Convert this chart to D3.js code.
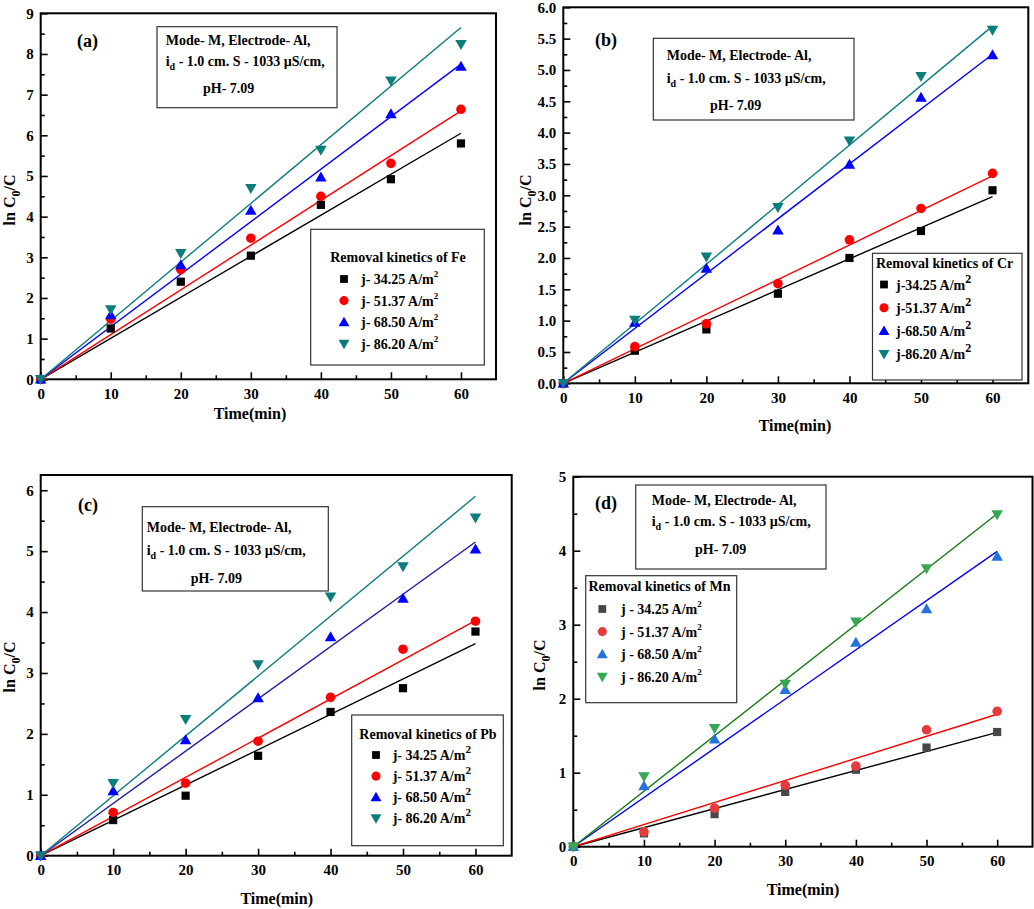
<!DOCTYPE html>
<html><head><meta charset="utf-8">
<script src="https://cdn.jsdelivr.net/npm/d3@7"></script>
<style>
body{margin:0;background:#fff}
svg text{font-family:"Liberation Serif","Times New Roman",serif;font-weight:bold;fill:#000}
</style></head><body>
<svg id="chart" width="1034" height="909"></svg>
<script>
// ---------- data ----------
const time = [0, 10, 20, 30, 40, 50, 60];
const currents = ["34.25", "51.37", "68.50", "86.20"];
const metals = ["Fe", "Cr", "Pb", "Mn"];
const xTicks = [0, 10, 20, 30, 40, 50, 60];

// Fe (a)
const fe34 = [0, 1.25, 2.40, 3.04, 4.29, 4.92, 5.80];
const fe51 = [0, 1.48, 2.70, 3.47, 4.50, 5.31, 6.64];
const fe68 = [0, 1.58, 2.81, 4.15, 4.97, 6.52, 7.69];
const fe86 = [0, 1.72, 3.10, 4.70, 5.64, 7.34, 8.24];
const feFitAt60 = [6.05, 6.60, 7.75, 8.65];
const feYTicks = [0, 1, 2, 3, 4, 5, 6, 7, 8, 9];

// Cr (b)
const cr34 = [0, 0.52, 0.86, 1.43, 2.00, 2.43, 3.08];
const cr51 = [0, 0.585, 0.95, 1.59, 2.29, 2.79, 3.35];
const cr68 = [0, 0.97, 1.83, 2.44, 3.49, 4.56, 5.24];
const cr86 = [0, 1.01, 2.02, 2.81, 3.87, 4.90, 5.64];
const crFitAt60 = [2.98, 3.31, 5.25, 5.70];
const crYTicks = [0, 0.5, 1, 1.5, 2, 2.5, 3, 3.5, 4, 4.5, 5, 5.5, 6];

// Pb (c)
const pb34 = [0, 0.585, 0.985, 1.64, 2.36, 2.75, 3.68];
const pb51 = [0, 0.71, 1.19, 1.88, 2.60, 3.39, 3.85];
const pb68 = [0, 1.06, 1.90, 2.59, 3.59, 4.22, 5.03];
const pb86 = [0, 1.19, 2.24, 3.14, 4.25, 4.75, 5.55];
const pbFitAt60 = [3.48, 3.86, 5.15, 5.90];
const pbYTicks = [0, 1, 2, 3, 4, 5, 6];

// Mn (d)
const mn34 = [0, 0.18, 0.44, 0.74, 1.04, 1.34, 1.55];
const mn51 = [0, 0.20, 0.52, 0.83, 1.09, 1.58, 1.83];
const mn68 = [0, 0.82, 1.45, 2.12, 2.76, 3.21, 3.92];
const mn86 = [0, 0.95, 1.60, 2.20, 3.04, 3.76, 4.49];
const mnFitAt60 = [1.545, 1.79, 3.99, 4.50];
const mnYTicks = [0, 1, 2, 3, 4, 5];

// ---------- styles ----------
const shapes = ["square", "circle", "up", "down"];
const colorsStd = ["#000000", "#ff0000", "#0000ff", "#0b7d7d"];
const lineStdC = ["#000000", "#ff0000", "#1c1ca6", "#0b7d7d"];
const markMn = ["#474747", "#e83a3a", "#2374da", "#35a853"];
const lineMn = ["#000000", "#ff0000", "#0000ff", "#127a12"];

function symPath(shape, k) {
  k = k || 1;
  if (shape === "square") { const s = 8.2 * k; return `M${-s/2},${-s/2}h${s}v${s}h${-s}Z`; }
  if (shape === "circle") { const r = 4.8 * k; return `M${r},0A${r},${r} 0 1,1 ${-r},0A${r},${r} 0 1,1 ${r},0Z`; }
  const w = 11.5 * k, h = 10 * k;
  if (shape === "up") return `M0,${-h*0.58}L${w/2},${h*0.42}L${-w/2},${h*0.42}Z`;
  return `M0,${h*0.58}L${w/2},${-h*0.42}L${-w/2},${-h*0.42}Z`;
}

const panels = [
  { tag: "(a)", box: [40.7, 13.3, 496, 379.3], yMax: 9, yTicks: feYTicks, yMinorStep: 0.5, fmt: d3.format("d"),
    series: [fe34, fe51, fe68, fe86], fit: feFitAt60, marks: colorsStd, lines: colorsStd,
    tagPos: [77, 47], note: { rect: [157, 26.7, 337, 107.7], x1: 165.7, x2: 165.7, x3: 203, y: [45, 65.5, 93] },
    legend: { rect: [310.7, 229.3, 484.3, 365], title: "Removal kinetics of Fe", tAnchor: "middle", tx: 398, ty: 262,
      mx: 344, tx2: 361, my0: 279, step: 21.6, prefix: "j- ", supSize: 9, supShift: -7 },
    yLab: [15, 200], xLab: [250, 419] },
  { tag: "(b)", box: [563.3, 7.3, 1028.3, 383.3], yMax: 6, yTicks: crYTicks, yMinorStep: 0.25, fmt: d3.format(".1f"),
    series: [cr34, cr51, cr68, cr86], fit: crFitAt60, marks: colorsStd, lines: colorsStd,
    tagPos: [595, 46], note: { rect: [653.3, 38.3, 854, 120], x1: 666.7, x2: 666.7, x3: 710, y: [59.5, 83, 109.5] },
    legend: { rect: [872.5, 253.3, 1022, 380], title: "Removal kinetics of Cr", tAnchor: "start", tx: 876, ty: 267.5,
      mx: 884, tx2: 896, my0: 284.5, step: 23.2, prefix: "j-", supSize: 12, supShift: -7 },
    yLab: [531, 200], xLab: [795, 431] },
  { tag: "(c)", box: [40.7, 475, 511.7, 855.7], yMax: 6.25, yTicks: pbYTicks, yMinorStep: 0.5, fmt: d3.format("d"),
    series: [pb34, pb51, pb68, pb86], fit: pbFitAt60, marks: colorsStd, lines: lineStdC,
    tagPos: [78, 511], note: { rect: [142.3, 506.7, 328.3, 591], x1: 146.7, x2: 146.7, x3: 190.7, y: [532, 554.5, 582.5] },
    legend: { rect: [351.7, 715, 503.3, 845.7], title: "Removal kinetics of Pb", tAnchor: "middle", tx: 428, ty: 738.5,
      mx: 376, tx2: 392.7, my0: 755, step: 21.1, prefix: "j- ", supSize: 11, supShift: -7 },
    yLab: [15, 667], xLab: [276.7, 904] },
  { tag: "(d)", box: [573.3, 476.7, 1032.5, 846.7], yMax: 5, yTicks: mnYTicks, yMinorStep: 0.5, fmt: d3.format("d"),
    series: [mn34, mn51, mn68, mn86], fit: mnFitAt60, marks: markMn, lines: lineMn,
    tagPos: [595, 509], note: { rect: [635.7, 485, 826, 569], x1: 651.7, x2: 651.7, x3: 695, y: [504.5, 525.5, 554] },
    legend: { rect: [585.7, 575.7, 736.7, 702.7], title: "Removal kinetics of Mn", tAnchor: "start", tx: 588.5, ty: 591,
      mx: 602.3, tx2: 621, my0: 609, step: 22.6, prefix: "j - ", supSize: 9, supShift: -7 },
    yLab: [545, 665], xLab: [803, 895] }
];

const svg = d3.select("#chart");

function drawPanel(p) {
  const [L, T, R, B] = p.box;
  const x = d3.scaleLinear().domain([0, 65]).range([L, R]);
  const y = d3.scaleLinear().domain([0, p.yMax]).range([B, T]);
  const g = svg.append("g");

  // minor ticks
  const xMinor = d3.range(5, 65, 10);
  const yMinor = d3.range(p.yMinorStep, p.yMax, p.yMinorStep).filter(v => !p.yTicks.some(t => Math.abs(t - v) < 1e-6));
  g.append("g").attr("transform", `translate(0,${B})`)
    .call(d3.axisBottom(x).tickValues(xMinor).tickSize(-4).tickFormat(""))
    .call(s => { s.select(".domain").remove(); s.selectAll("line").attr("stroke", "#000").attr("stroke-width", 1.6); });
  g.append("g").attr("transform", `translate(${L},0)`)
    .call(d3.axisLeft(y).tickValues(yMinor).tickSize(-4).tickFormat(""))
    .call(s => { s.select(".domain").remove(); s.selectAll("line").attr("stroke", "#000").attr("stroke-width", 1.6); });

  // major ticks
  g.append("g").attr("transform", `translate(0,${B})`)
    .call(d3.axisBottom(x).tickValues(xTicks).tickSize(-7).tickPadding(9).tickFormat(d3.format("d")))
    .call(s => { s.select(".domain").remove(); s.selectAll("line").attr("stroke", "#000").attr("stroke-width", 1.6);
      s.selectAll("text").attr("font-size", 15).attr("font-family", null).attr("fill", "#000"); });
  g.append("g").attr("transform", `translate(${L},0)`)
    .call(d3.axisLeft(y).tickValues(p.yTicks).tickSize(-7).tickPadding(7).tickFormat(p.fmt))
    .call(s => { s.select(".domain").remove(); s.selectAll("line").attr("stroke", "#000").attr("stroke-width", 1.6);
      s.selectAll("text").attr("font-size", 15).attr("font-family", null).attr("fill", "#000"); });

  // frame
  g.append("rect").attr("x", L).attr("y", T).attr("width", R - L).attr("height", B - T)
    .attr("fill", "none").attr("stroke", "#000").attr("stroke-width", 2);

  // fit lines
  p.fit.forEach((v, i) => {
    g.append("line").attr("x1", x(0)).attr("y1", y(0)).attr("x2", x(60)).attr("y2", y(v))
      .attr("stroke", p.lines[i]).attr("stroke-width", 1.4);
  });

  // markers
  p.series.forEach((vals, i) => {
    g.append("g").selectAll("path").data(vals).join("path")
      .attr("transform", (d, j) => `translate(${x(time[j])},${y(d)})`)
      .attr("d", symPath(shapes[i])).attr("fill", p.marks[i]);
  });

  // panel tag
  g.append("text").attr("x", p.tagPos[0]).attr("y", p.tagPos[1]).attr("font-size", 18).text(p.tag);

  // note box
  const n = p.note;
  g.append("rect").attr("x", n.rect[0]).attr("y", n.rect[1]).attr("width", n.rect[2] - n.rect[0]).attr("height", n.rect[3] - n.rect[1])
    .attr("fill", "#fff").attr("stroke", "#333").attr("stroke-width", 1.2);
  g.append("text").attr("x", n.x1).attr("y", n.y[0]).attr("font-size", 14).text("Mode- M, Electrode- Al,");
  const t2 = g.append("text").attr("x", n.x2).attr("y", n.y[1]).attr("font-size", 14);
  t2.append("tspan").text("i");
  t2.append("tspan").attr("font-size", 10).attr("dy", 4).text("d");
  t2.append("tspan").attr("dy", -4).text(" - 1.0 cm. S - 1033 \u00b5S/cm,");
  g.append("text").attr("x", n.x3).attr("y", n.y[2]).attr("font-size", 14).text("pH- 7.09");

  // legend
  const lg = p.legend;
  g.append("rect").attr("x", lg.rect[0]).attr("y", lg.rect[1]).attr("width", lg.rect[2] - lg.rect[0]).attr("height", lg.rect[3] - lg.rect[1])
    .attr("fill", "#fff").attr("stroke", "#333").attr("stroke-width", 1.2);
  g.append("text").attr("x", lg.tx).attr("y", lg.ty).attr("text-anchor", lg.tAnchor).attr("font-size", 14).text(lg.title);
  currents.forEach((c, i) => {
    const yy = lg.my0 + i * lg.step;
    g.append("path").attr("transform", `translate(${lg.mx},${yy})`).attr("d", symPath(shapes[i], 0.95)).attr("fill", p.marks[i]);
    const t = g.append("text").attr("x", lg.tx2).attr("y", yy + 5).attr("font-size", 14);
    t.append("tspan").text(`${lg.prefix}${c} A/m`);
    t.append("tspan").attr("font-size", lg.supSize).attr("dy", lg.supShift).text("2");
  });

  // axis titles
  const yl = g.append("text").attr("transform", `translate(${p.yLab[0]},${p.yLab[1]}) rotate(-90)`)
    .attr("text-anchor", "middle").attr("font-size", 16);
  yl.append("tspan").text("ln C");
  yl.append("tspan").attr("font-size", 12).attr("dy", 5).text("0");
  yl.append("tspan").attr("dy", -5).text("/C");
  g.append("text").attr("x", p.xLab[0]).attr("y", p.xLab[1]).attr("text-anchor", "middle").attr("font-size", 16).text("Time(min)");
}

panels.forEach(drawPanel);
</script>
</body></html>
